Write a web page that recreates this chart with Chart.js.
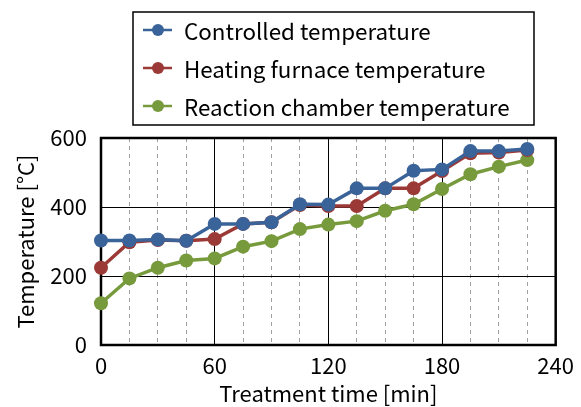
<!DOCTYPE html>
<html>
<head>
<meta charset="utf-8">
<script src="https://cdn.jsdelivr.net/npm/chart.js@4.4.1/dist/chart.umd.min.js"></script>
<style>
  html, body { margin: 0; padding: 0; background: #fff; }
</style>
</head>
<body>
<canvas id="chart" width="581" height="407"></canvas>
<script>
// treatment time (min) and the three measured temperatures (°C)
const times      = [0, 15, 30, 45, 60, 75, 90, 105, 120, 135, 150, 165, 180, 195, 210, 225]
const controlled = [303, 303, 306, 302, 351, 351, 356, 408, 407, 454, 454, 505, 509, 562, 562, 568]
const furnace    = [224, 298, 304, 302, 307, 351, 356, 406, 403, 403, 454, 454, 504, 556, 558, 565]
const chamber    = [121, 193, 224, 245, 251, 285, 301, 336, 349, 359, 389, 408, 452, 495, 517, 536]

const seriesNames  = ["Controlled temperature", "Heating furnace temperature", "Reaction chamber temperature"]
const seriesColors = ["#3a6499", "#9b3936", "#779a3c"]
const xLabels = [0, 60, 120, 180, 240]
const yLabels = [0, 200, 400, 600]

const FONT = "'Noto Sans CJK JP', 'Noto Sans', sans-serif"

const toPoints = (vals) => vals.map((v, i) => ({ x: times[i], y: v }))

// heavy frame round the plot area, drawn over the grid but under the series
const frame = {
  id: "frame",
  beforeDatasetsDraw(chart) {
    const { ctx, chartArea: a } = chart
    ctx.save()
    ctx.strokeStyle = "#000"
    ctx.lineWidth = 2.5
    ctx.strokeRect(a.left, a.top, a.right - a.left, a.bottom - a.top)
    ctx.restore()
  }
}

// boxed legend above the plot, one series per row
const boxLegend = {
  id: "boxLegend",
  afterDraw(chart) {
    const { ctx } = chart
    ctx.save()
    ctx.strokeStyle = "#000"
    ctx.lineWidth = 1.5
    ctx.strokeRect(133, 12, 401, 113)
    ctx.font = "22.4px " + FONT
    ctx.textBaseline = "middle"
    chart.data.datasets.forEach((ds, i) => {
      const y = 30 + i * 38
      ctx.strokeStyle = ds.borderColor
      ctx.lineWidth = 2.5
      ctx.beginPath()
      ctx.moveTo(143, y)
      ctx.lineTo(172, y)
      ctx.stroke()
      ctx.fillStyle = ds.borderColor
      ctx.beginPath()
      ctx.arc(158, y, 6, 0, Math.PI * 2)
      ctx.fill()
      ctx.fillStyle = "#000"
      ctx.fillText(ds.label, 184, y + 1)
    })
    ctx.restore()
  }
}

new Chart(document.getElementById("chart").getContext("2d"), {
  type: "line",
  data: {
    datasets: [controlled, furnace, chamber].map((vals, i) => ({
      label: seriesNames[i],
      data: toPoints(vals),
      borderColor: seriesColors[i],
      backgroundColor: seriesColors[i],
      borderWidth: 3.5,
      pointRadius: 7,
      pointHoverRadius: 7,
      pointBorderWidth: 0,
      tension: 0,
      clip: false
    }))
  },
  options: {
    responsive: false,
    animation: false,
    layout: { padding: { top: 138, right: 19, left: 0, bottom: 0 } },
    plugins: { legend: { display: false }, tooltip: { enabled: false } },
    scales: {
      x: {
        type: "linear",
        min: 0,
        max: 240,
        afterFit: (s) => { s.height = 62 },
        ticks: {
          stepSize: 15,
          autoSkip: false,
          maxRotation: 0,
          padding: 7,
          color: "#000",
          font: { family: FONT, size: 22 },
          callback: (v) => xLabels.includes(v) ? String(v) : ""
        },
        grid: {
          drawTicks: false,
          lineWidth: 1,
          color: (c) => c.tick && c.tick.value % 60 === 0 ? "#000" : "#a0a0a0"
        },
        border: {
          display: false,
          dash: (c) => c.tick && c.tick.value % 60 !== 0 ? [4, 4] : []
        },
        title: {
          display: true,
          text: "Treatment time [min]",
          color: "#000",
          font: { family: FONT, size: 22 },
          padding: { top: 0, bottom: 0 }
        }
      },
      y: {
        min: 0,
        max: 600,
        afterFit: (s) => { s.width = 101 },
        ticks: {
          stepSize: 200,
          padding: 14,
          color: "#000",
          font: { family: FONT, size: 22 },
          callback: (v) => yLabels.includes(v) ? String(v) : ""
        },
        grid: { drawTicks: false, lineWidth: 1, color: "#000" },
        border: { display: false },
        title: {
          display: true,
          text: "Temperature [°C]",
          color: "#000",
          font: { family: FONT, size: 22 },
          padding: { top: 12, bottom: 0 }
        }
      }
    }
  },
  plugins: [frame, boxLegend]
})
</script>
</body>
</html>
